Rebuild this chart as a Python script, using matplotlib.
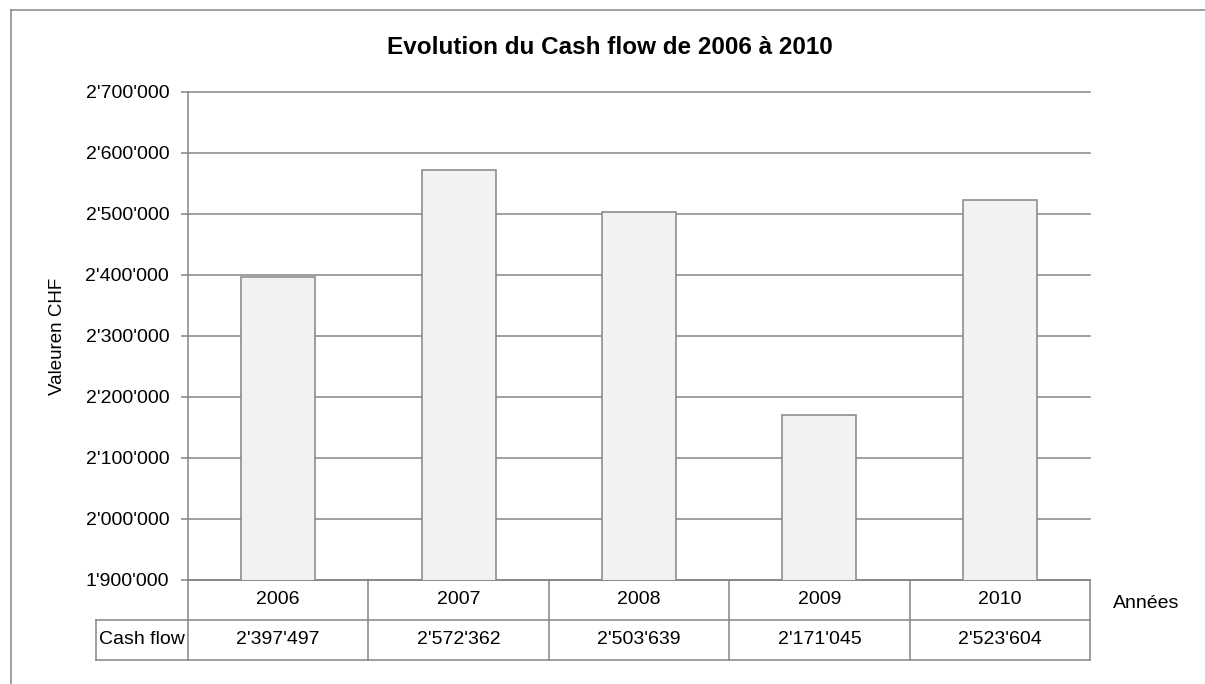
import matplotlib.pyplot as plt
from matplotlib.lines import Line2D
from matplotlib.transforms import blended_transform_factory

plt.rcParams['font.family'] = ['Liberation Sans', 'DejaVu Sans']

# Data
years = ["2006", "2007", "2008", "2009", "2010"]
cash_flow = [2397497, 2572362, 2503639, 2171045, 2523604]
y_ticks = [1900000, 2000000, 2100000, 2200000, 2300000, 2400000, 2500000, 2600000, 2700000]

GRAY = "#858585"
LW = 1.1


def swiss(v):
    return f"{v:,}".replace(",", "'")


fig = plt.figure(figsize=(12.05, 6.84), dpi=100)
W, H = 1205, 684

# plot area in pixels: x 188..1090, y 92..580
ax = fig.add_axes([188 / W, 1 - 580 / H, (1090 - 188) / W, (580 - 92) / H])

x = list(range(len(years)))
ax.bar(x, cash_flow, width=0.41, color="#F2F2F1", edgecolor=GRAY, linewidth=LW, zorder=3)

ax.set_xlim(-0.5, len(years) - 0.5)
ax.set_ylim(y_ticks[0], y_ticks[-1])
ax.set_yticks(y_ticks)
ax.set_yticklabels([swiss(t) for t in y_ticks], fontsize=14)
ax.set_xticks([])
ax.yaxis.grid(True, color=GRAY, linewidth=LW, zorder=0)
for gl in ax.get_ygridlines():
    gl.set_clip_on(False)
ax.tick_params(axis="y", length=5, width=LW, color=GRAY, pad=8.5)
for side in ["top", "right"]:
    ax.spines[side].set_visible(False)
for side in ["left", "bottom"]:
    ax.spines[side].set_color(GRAY)
    ax.spines[side].set_linewidth(LW)

ax.set_ylabel("Valeuren CHF", fontsize=13.5)
ax.yaxis.set_label_coords(-0.135, 0.5)

# data table under the plot
tr = blended_transform_factory(ax.transData, ax.transAxes)
row_h = 40 / 488
left_cell = -0.5 - (188 - 96) / ((1090 - 188) / len(years))

def seg(x0, x1, y0, y1):
    ax.add_line(Line2D([x0, x1], [y0, y1], transform=tr, color=GRAY,
                       linewidth=LW, clip_on=False))

for i in range(len(years) + 1):
    seg(i - 0.5, i - 0.5, 0, -2 * row_h)
seg(-0.5, len(years) - 0.5, -row_h, -row_h)
seg(left_cell, len(years) - 0.5, -2 * row_h, -2 * row_h)
seg(left_cell, -0.5, -row_h, -row_h)
seg(left_cell, left_cell, -row_h, -2 * row_h)

for i, (yr, v) in enumerate(zip(years, cash_flow)):
    ax.text(i, -0.5 * row_h, yr, transform=tr, ha="center", va="center", fontsize=14)
    ax.text(i, -1.5 * row_h, swiss(v), transform=tr, ha="center", va="center", fontsize=14)
ax.text((left_cell - 0.5) / 2, -1.5 * row_h, "Cash flow", transform=tr,
        ha="center", va="center", fontsize=14)

fig.text(1113 / W, 1 - 603 / H, "Années", ha="left", va="center", fontsize=14)

fig.text(610 / W, 1 - 47 / H, "Evolution du Cash flow de 2006 à 2010",
         ha="center", va="center", fontsize=17.5, fontweight="bold")

# outer chart frame
fig.add_artist(Line2D([11 / W, 11 / W], [0, 1 - 10 / H], transform=fig.transFigure,
                      color=GRAY, linewidth=LW))
fig.add_artist(Line2D([11 / W, 1], [1 - 10 / H, 1 - 10 / H], transform=fig.transFigure,
                      color=GRAY, linewidth=LW))

fig.savefig("out.png", dpi=100, facecolor="white")
